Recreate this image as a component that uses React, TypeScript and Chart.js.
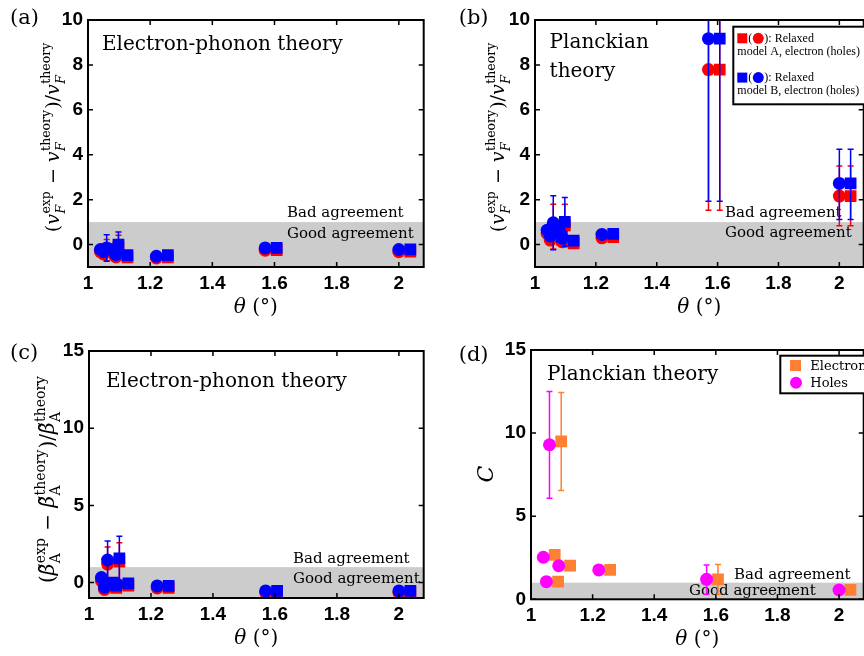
import React, { useEffect, useRef } from 'react';
import { Chart, registerables } from 'chart.js';
Chart.register(...registerables);

// ---------- data ----------
const thetaHoles = [1.04, 1.05, 1.06, 1.09, 1.22, 1.57, 2.0];
const thetaElectrons = [1.077, 1.088, 1.098, 1.127, 1.257, 1.607, 2.037];
const xTickValues = [1, 1.2, 1.4, 1.6, 1.8, 2];
const yTickValuesVF = [0, 2, 4, 6, 8, 10];
const yTickValuesBC = [0, 5, 10, 15];

// (a) electron-phonon, Fermi velocity
const aModelBHoles = [-0.22, -0.32, -0.15, -0.45, -0.52, -0.15, -0.22];
const aModelBHolesLo = [null, null, -0.74, null, null, null, null];
const aModelBHolesHi = [null, null, 0.44, null, null, null, null];
const aModelBElectrons = [-0.2, -0.35, 0.0, -0.47, -0.47, -0.15, -0.22];
const aModelBElectronsLo = [null, null, -0.56, null, null, null, null];
const aModelBElectronsHi = [null, null, 0.56, null, null, null, null];
const aModelAHoles = [-0.32, -0.42, -0.25, -0.55, -0.6, -0.25, -0.32];
const aModelAHolesLo = [null, null, -0.72, null, null, null, null];
const aModelAHolesHi = [null, null, 0.22, null, null, null, null];
const aModelAElectrons = [-0.3, -0.45, -0.1, -0.57, -0.57, -0.25, -0.32];
const aModelAElectronsLo = [null, null, -0.61, null, null, null, null];
const aModelAElectronsHi = [null, null, 0.41, null, null, null, null];

// (b) Planckian, Fermi velocity
const bModelBHoles = [0.64, 0.38, 0.97, 0.28, 0.45, 9.17, 2.72];
const bModelBHolesLo = [null, null, -0.23, null, null, 1.93, 1.12];
const bModelBHolesHi = [null, null, 2.17, null, null, 16.4, 4.24];
const bModelBElectrons = [0.7, 0.35, 1.01, 0.17, 0.48, 9.17, 2.72];
const bModelBElectronsLo = [null, null, -0.08, null, null, 1.93, 1.12];
const bModelBElectronsHi = [null, null, 2.1, null, null, 16.4, 4.24];
const bModelAHoles = [0.5, 0.2, 0.8, 0.12, 0.3, 7.79, 2.16];
const bModelAHolesLo = [null, null, -0.2, null, null, 1.53, 0.84];
const bModelAHolesHi = [null, null, 1.8, null, null, 14.05, 3.5];
const bModelAElectrons = [0.55, 0.22, 0.85, 0.05, 0.33, 7.79, 2.16];
const bModelAElectronsLo = [null, null, -0.1, null, null, 1.53, 0.84];
const bModelAElectronsHi = [null, null, 1.79, null, null, 14.05, 3.5];

// (c) electron-phonon, beta_A
const cModelBHoles = [0.32, -0.3, 1.46, -0.1, -0.22, -0.54, -0.54];
const cModelBHolesLo = [null, null, 0.23, null, null, null, null];
const cModelBHolesHi = [null, null, 2.69, null, null, null, null];
const cModelBElectrons = [0.0, -0.2, 1.57, -0.05, -0.22, -0.54, -0.54];
const cModelBElectronsLo = [null, null, 0.14, null, null, null, null];
const cModelBElectronsHi = [null, null, 3.0, null, null, null, null];
const cModelAHoles = [0.12, -0.45, 1.2, -0.25, -0.35, -0.65, -0.65];
const cModelAHolesLo = [null, null, 0.1, null, null, null, null];
const cModelAHolesHi = [null, null, 2.3, null, null, null, null];
const cModelAElectrons = [-0.15, -0.35, 1.35, -0.2, -0.35, -0.65, -0.65];
const cModelAElectronsLo = [null, null, 0.1, null, null, null, null];
const cModelAElectronsHi = [null, null, 2.58, null, null, null, null];

// (d) Planckian, C
const dElectrons = [2.67, 1.06, 9.5, 2.02, 1.77, 1.2, 0.56];
const dElectronsLo = [null, null, 6.54, null, null, 0.3, null];
const dElectronsHi = [null, null, 12.45, null, null, 2.1, null];
const dHoles = [2.53, 1.06, 9.3, 2.02, 1.77, 1.2, 0.56];
const dHolesLo = [null, null, 6.08, null, null, 0.3, null];
const dHolesHi = [null, null, 12.5, null, null, 2.07, null];

const legendModelLines = ['model A, electron (holes)', 'model B, electron (holes)'];
const legendCarrierLabels = ['Electron', 'Holes'];

// ---------- styles ----------
const RED = '#ff0000';
const BLUE = '#0000ff';
const ORANGE = '#ff8033';
const MAGENTA = '#ff00ff';
const BAND = '#cccccc';
const SERIF = '"DejaVu Serif", "Liberation Serif", serif';
const TIMES = '"Liberation Serif", "Times New Roman", serif';
const SANS = '"Liberation Sans", Arial, Helvetica, sans-serif';
const CIRCLE_R = 6.5;
const RECT_R = 8.3;

type Item = { t?: string; it?: boolean; sup?: string; sub?: string; subIt?: boolean };

const vTitle: Item[] = [
  { t: '(' }, { t: 'v', it: true }, { sup: 'exp', sub: 'F', subIt: true }, { t: ' − ' },
  { t: 'v', it: true }, { sup: 'theory', sub: 'F', subIt: true }, { t: ')/' },
  { t: 'v', it: true }, { sup: 'theory', sub: 'F', subIt: true },
];
const betaTitle: Item[] = [
  { t: '(' }, { t: 'β̃', it: true }, { sup: 'exp', sub: 'A' }, { t: ' − ' },
  { t: 'β̃', it: true }, { sup: 'theory', sub: 'A' }, { t: ')/' },
  { t: 'β̃', it: true }, { sup: 'theory', sub: 'A' },
];
const cTitle: Item[] = [{ t: 'C', it: true }];
const thetaTitle: Item[] = [{ t: 'θ', it: true }, { t: ' (' }, { t: '°' }, { t: ')' }];

function drawRich(ctx: any, items: Item[], mainPx: number, scrPx: number, x: number, y: number, rotate: boolean) {
  const mf = (it?: boolean) => `${it ? 'italic ' : ''}${mainPx}px ${SERIF}`;
  const sf = (it?: boolean) => `${it ? 'italic ' : ''}${scrPx}px ${SERIF}`;
  const widths = items.map((item) => {
    if (item.t !== undefined) {
      ctx.font = mf(item.it);
      return ctx.measureText(item.t).width;
    }
    ctx.font = sf(false);
    const ws = ctx.measureText(item.sup || '').width;
    ctx.font = sf(item.subIt);
    const wb = ctx.measureText(item.sub || '').width;
    return Math.max(ws, wb) + 1.5;
  });
  const total = widths.reduce((s, w) => s + w, 0);
  ctx.save();
  ctx.translate(x, y);
  if (rotate) ctx.rotate(-Math.PI / 2);
  ctx.textAlign = 'left';
  ctx.textBaseline = 'alphabetic';
  ctx.fillStyle = '#000';
  let cx = -total / 2;
  items.forEach((item, i) => {
    if (item.t !== undefined) {
      ctx.font = mf(item.it);
      ctx.fillText(item.t, cx, 0);
    } else {
      ctx.font = sf(false);
      ctx.fillText(item.sup || '', cx + 0.5, -mainPx * 0.45);
      ctx.font = sf(item.subIt);
      ctx.fillText(item.sub || '', cx + 0.5, mainPx * 0.3);
    }
    cx += widths[i];
  });
  ctx.restore();
}

function series(xs: number[], ys: number[], lo: any[], hi: any[], style: string, color: string) {
  return {
    data: xs.map((x, i) => ({ x, y: ys[i], lo: lo[i], hi: hi[i] })),
    pointStyle: style,
    pointRadius: style === 'rect' ? RECT_R : CIRCLE_R,
    pointHoverRadius: style === 'rect' ? RECT_R : CIRCLE_R,
    backgroundColor: color,
    borderColor: color,
    pointBorderWidth: 0,
    borderWidth: 0,
    showLine: false,
  };
}

function legendModels(ctx: any, a: any) {
  const bx = a.left + 198.3, by = a.top + 6.7, bw = 170, bh = 77.6;
  ctx.save();
  ctx.fillStyle = '#fff';
  ctx.fillRect(bx, by, bw, bh);
  ctx.strokeStyle = '#000';
  ctx.lineWidth = 2;
  ctx.strokeRect(bx, by, bw, bh);
  const colors = [RED, BLUE];
  colors.forEach((c, k) => {
    const oy = by + k * 39.3;
    ctx.fillStyle = c;
    ctx.fillRect(bx + 4, oy + 6.6, 10, 10);
    ctx.font = `12px ${TIMES}`;
    ctx.textAlign = 'left';
    ctx.textBaseline = 'alphabetic';
    ctx.fillStyle = '#000';
    ctx.fillText('(', bx + 15, oy + 15);
    ctx.fillStyle = c;
    ctx.beginPath();
    ctx.arc(bx + 25, oy + 11.6, 5.5, 0, Math.PI * 2);
    ctx.fill();
    ctx.fillStyle = '#000';
    ctx.fillText('): Relaxed', bx + 31, oy + 15);
    ctx.fillText(legendModelLines[k], bx + 4, oy + 28.3);
  });
  ctx.restore();
}

function legendCarriers(ctx: any, a: any) {
  const bx = a.left + 249.3, by = a.top + 5.7, bw = 120, bh = 37.6;
  ctx.save();
  ctx.fillStyle = '#fff';
  ctx.fillRect(bx, by, bw, bh);
  ctx.strokeStyle = '#000';
  ctx.lineWidth = 2;
  ctx.strokeRect(bx, by, bw, bh);
  ctx.fillStyle = ORANGE;
  ctx.fillRect(bx + 15.2 - 5.5, by + 9.8 - 5.5, 11, 11);
  ctx.fillStyle = MAGENTA;
  ctx.beginPath();
  ctx.arc(bx + 15.7, by + 27, 6, 0, Math.PI * 2);
  ctx.fill();
  ctx.fillStyle = '#000';
  ctx.font = `13px ${SERIF}`;
  ctx.textAlign = 'left';
  ctx.textBaseline = 'alphabetic';
  ctx.fillText(legendCarrierLabels[0], bx + 30, by + 14.3);
  ctx.fillText(legendCarrierLabels[1], bx + 30, by + 31);
  ctx.restore();
}

const titleFont = `20px ${SERIF}`;
const agreeFont = `15px ${SERIF}`;

const panels = [
  {
    key: 'a', left: 0, top: 0, width: 432, height: 320,
    area: { l: 88, t: 20, r: 425, b: 267 },
    yMin: -1, yMax: 10, yTicks: yTickValuesVF, band: [-1, 1],
    datasets: [
      series(thetaHoles, aModelBHoles, aModelBHolesLo, aModelBHolesHi, 'circle', BLUE),
      series(thetaElectrons, aModelBElectrons, aModelBElectronsLo, aModelBElectronsHi, 'rect', BLUE),
      series(thetaHoles, aModelAHoles, aModelAHolesLo, aModelAHolesHi, 'circle', RED),
      series(thetaElectrons, aModelAElectrons, aModelAElectronsLo, aModelAElectronsHi, 'rect', RED),
    ],
    yTitle: vTitle, yTitleSize: [19, 12.5], yTitleGap: 29, yTitleY: 137,
    texts: [
      { s: 'Electron-phonon theory', dx: 14, dy: 30, font: titleFont },
      { s: 'Bad agreement', dx: 199, dy: 197, font: agreeFont },
      { s: 'Good agreement', dx: 199, dy: 218, font: agreeFont },
    ],
    label: '(a)', labelX: 10, labelY: 19, legend: null,
  },
  {
    key: 'b', left: 432, top: 0, width: 440, height: 320,
    area: { l: 103, t: 20, r: 438, b: 267 },
    yMin: -1, yMax: 10, yTicks: yTickValuesVF, band: [-1, 1],
    datasets: [
      series(thetaHoles, bModelBHoles, bModelBHolesLo, bModelBHolesHi, 'circle', BLUE),
      series(thetaElectrons, bModelBElectrons, bModelBElectronsLo, bModelBElectronsHi, 'rect', BLUE),
      series(thetaHoles, bModelAHoles, bModelAHolesLo, bModelAHolesHi, 'circle', RED),
      series(thetaElectrons, bModelAElectrons, bModelAElectronsLo, bModelAElectronsHi, 'rect', RED),
    ],
    yTitle: vTitle, yTitleSize: [19, 12.5], yTitleGap: 31, yTitleY: 137,
    texts: [
      { s: 'Planckian', dx: 14.6, dy: 28.3, font: titleFont },
      { s: 'theory', dx: 14.6, dy: 56.7, font: titleFont },
      { s: 'Bad agreement', dx: 190, dy: 197, font: agreeFont },
      { s: 'Good agreement', dx: 190, dy: 217, font: agreeFont },
    ],
    label: '(b)', labelX: 26.7, labelY: 19, legend: legendModels,
  },
  {
    key: 'c', left: 0, top: 320, width: 432, height: 336,
    area: { l: 89, t: 31, r: 427, b: 278 },
    yMin: -1, yMax: 15, yTicks: yTickValuesBC, band: [-1, 1],
    datasets: [
      series(thetaHoles, cModelBHoles, cModelBHolesLo, cModelBHolesHi, 'circle', BLUE),
      series(thetaElectrons, cModelBElectrons, cModelBElectronsLo, cModelBElectronsHi, 'rect', BLUE),
      series(thetaHoles, cModelAHoles, cModelAHolesLo, cModelAHolesHi, 'circle', RED),
      series(thetaElectrons, cModelAElectrons, cModelAElectronsLo, cModelAElectronsHi, 'rect', RED),
    ],
    yTitle: betaTitle, yTitleSize: [20, 14], yTitleGap: 35, yTitleY: 159,
    texts: [
      { s: 'Electron-phonon theory', dx: 17, dy: 35.7, font: titleFont },
      { s: 'Bad agreement', dx: 204, dy: 212, font: agreeFont },
      { s: 'Good agreement', dx: 204, dy: 232, font: agreeFont },
    ],
    label: '(c)', labelX: 10, labelY: 34, legend: null,
  },
  {
    key: 'd', left: 432, top: 320, width: 440, height: 336,
    area: { l: 99, t: 30, r: 439, b: 279.3 },
    yMin: 0, yMax: 15, yTicks: yTickValuesBC, band: [0, 1],
    datasets: [
      series(thetaHoles, dHoles, dHolesLo, dHolesHi, 'circle', MAGENTA),
      series(thetaElectrons, dElectrons, dElectronsLo, dElectronsHi, 'rect', ORANGE),
    ],
    yTitle: cTitle, yTitleSize: [22, 14], yTitleGap: 38, yTitleY: 154,
    texts: [
      { s: 'Planckian theory', dx: 16, dy: 30, font: titleFont },
      { s: 'Bad agreement', dx: 203, dy: 229, font: agreeFont },
      { s: 'Good agreement', dx: 158, dy: 245, font: agreeFont },
    ],
    label: '(d)', labelX: 26.7, labelY: 36, legend: legendCarriers,
  },
];

function makePlugin(cfg: any) {
  return {
    id: 'panelDecor',
    beforeDatasetsDraw(chart: any) {
      const { ctx, chartArea: a } = chart;
      const y = chart.scales.y;
      ctx.save();
      const yTop = y.getPixelForValue(cfg.band[1]);
      const yBot = y.getPixelForValue(cfg.band[0]);
      ctx.fillStyle = BAND;
      ctx.fillRect(a.left, yTop, a.right - a.left, yBot - yTop);
      ctx.fillStyle = '#000';
      ctx.textAlign = 'left';
      ctx.textBaseline = 'alphabetic';
      cfg.texts.forEach((t: any) => {
        ctx.font = t.font;
        ctx.fillText(t.s, a.left + t.dx, a.top + t.dy);
      });
      ctx.restore();
    },
    afterDatasetDraw(chart: any, args: any) {
      const ds = chart.data.datasets[args.index];
      const meta = args.meta;
      const { ctx, chartArea: a } = chart;
      const y = chart.scales.y;
      ctx.save();
      ctx.beginPath();
      ctx.rect(a.left, a.top, a.right - a.left, a.bottom - a.top);
      ctx.clip();
      ctx.strokeStyle = ds.backgroundColor;
      ctx.lineWidth = 1.5;
      ds.data.forEach((p: any, i: number) => {
        if (p.lo == null || p.hi == null) return;
        const px = meta.data[i].x;
        const y0 = y.getPixelForValue(p.lo);
        const y1 = y.getPixelForValue(p.hi);
        ctx.beginPath();
        ctx.moveTo(px, y0); ctx.lineTo(px, y1);
        ctx.moveTo(px - 3, y0); ctx.lineTo(px + 3, y0);
        ctx.moveTo(px - 3, y1); ctx.lineTo(px + 3, y1);
        ctx.stroke();
      });
      ctx.restore();
    },
    afterDraw(chart: any) {
      const { ctx, chartArea: a } = chart;
      const x = chart.scales.x;
      const y = chart.scales.y;
      ctx.save();
      ctx.strokeStyle = '#000';
      ctx.lineWidth = 1.5;
      ctx.beginPath();
      xTickValues.forEach((v) => {
        const px = x.getPixelForValue(v);
        ctx.moveTo(px, a.bottom); ctx.lineTo(px, a.bottom - 5);
        ctx.moveTo(px, a.top); ctx.lineTo(px, a.top + 5);
      });
      cfg.yTicks.forEach((v: number) => {
        const py = y.getPixelForValue(v);
        ctx.moveTo(a.left, py); ctx.lineTo(a.left + 5, py);
        ctx.moveTo(a.right, py); ctx.lineTo(a.right - 5, py);
      });
      ctx.stroke();
      ctx.lineWidth = 2;
      ctx.strokeRect(a.left, a.top, a.right - a.left, a.bottom - a.top);
      ctx.restore();
      drawRich(ctx, cfg.yTitle, cfg.yTitleSize[0], cfg.yTitleSize[1], a.left - cfg.yTitleGap, cfg.yTitleY, true);
      drawRich(ctx, thetaTitle, 20, 14, (a.left + a.right) / 2, a.bottom + 46, false);
      ctx.save();
      ctx.fillStyle = '#000';
      ctx.font = `21px ${SERIF}`;
      ctx.textAlign = 'left';
      ctx.textBaseline = 'middle';
      ctx.fillText(cfg.label, cfg.labelX, cfg.labelY);
      ctx.restore();
      if (cfg.legend) cfg.legend(ctx, a);
    },
  };
}

const tickFont = { family: SANS, size: 19, weight: 'bold' as const };

function Panel({ cfg }: { cfg: any }) {
  const ref = useRef<HTMLCanvasElement | null>(null);
  useEffect(() => {
    if (!ref.current) return;
    const chart = new Chart(ref.current, {
      type: 'scatter',
      data: { datasets: cfg.datasets },
      options: {
        responsive: false,
        animation: false,
        events: [],
        layout: { padding: { left: 0, top: cfg.area.t, right: cfg.width - cfg.area.r, bottom: 0 } },
        plugins: { legend: { display: false }, tooltip: { enabled: false } },
        scales: {
          x: {
            type: 'linear', position: 'bottom', min: 1, max: 2.08,
            afterBuildTicks: (s: any) => { s.ticks = xTickValues.map((v) => ({ value: v })); },
            afterFit: (s: any) => { s.height = cfg.height - cfg.area.b; },
            grid: { display: false, drawTicks: false },
            border: { display: false },
            ticks: { font: tickFont, color: '#000', padding: 5, maxRotation: 0, autoSkip: false, callback: (v: any) => String(v) },
          },
          y: {
            type: 'linear', position: 'left', min: cfg.yMin, max: cfg.yMax,
            afterBuildTicks: (s: any) => { s.ticks = cfg.yTicks.map((v: number) => ({ value: v })); },
            afterFit: (s: any) => { s.width = cfg.area.l; },
            grid: { display: false, drawTicks: false },
            border: { display: false },
            ticks: { font: tickFont, color: '#000', padding: 5, autoSkip: false, callback: (v: any) => String(v) },
          },
        },
      } as any,
      plugins: [makePlugin(cfg)],
    });
    return () => chart.destroy();
  }, [cfg]);
  return (
    <canvas
      ref={ref}
      width={cfg.width}
      height={cfg.height}
      style={{ position: 'absolute', left: cfg.left, top: cfg.top, width: cfg.width, height: cfg.height }}
    />
  );
}

export default function App() {
  return (
    <div style={{ position: 'fixed', left: 0, top: 0, width: 864, height: 656, overflow: 'hidden', background: '#fff' }}>
      {panels.map((p) => (
        <Panel key={p.key} cfg={p} />
      ))}
    </div>
  );
}
